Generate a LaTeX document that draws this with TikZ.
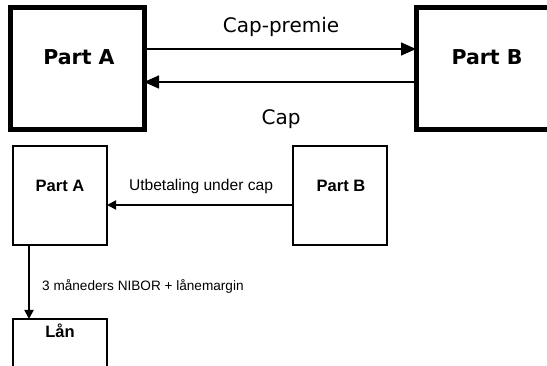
\documentclass[tikz,border=0pt]{standalone}
\usepackage{fontspec}
\setmainfont{DejaVu Sans}
\newfontfamily\lowfont{Liberation Sans}
\usetikzlibrary{arrows.meta}
\tikzset{
  bigbox/.style={draw=black, line width=5pt, minimum width=134pt, minimum height=122pt, inner sep=0pt, outer sep=0pt},
  smallbox/.style={draw=black, line width=2.5pt, minimum width=94pt, minimum height=99pt, inner sep=0pt, outer sep=0pt},
  toptext/.style={font=\fontsize{20}{24}\selectfont, anchor=base, inner sep=0pt},
  topbold/.style={font=\fontsize{20.5}{24}\selectfont\bfseries, anchor=base, inner sep=0pt},
  lowtext/.style={font=\lowfont\fontsize{15.6}{18}\selectfont, anchor=base, inner sep=0pt},
  lowbold/.style={font=\lowfont\fontsize{16.5}{19}\selectfont\bfseries, anchor=base, inner sep=0pt},
  lowsmall/.style={font=\lowfont\fontsize{13.6}{16}\selectfont, anchor=base west, inner sep=0pt},
  toparrow/.style={line width=1.5pt, -{Triangle[length=15pt,width=13pt]}},
  lowarrow/.style={line width=1.8pt, -{Triangle[length=9pt,width=9pt]}}
}
\begin{document}
\begin{tikzpicture}[x=1pt,y=-1pt]
\useasboundingbox (0,0) rectangle (547,366);
\clip (0,0) rectangle (547,366);
% top section
\node[bigbox] (pa) at (77,69) {};
\node[bigbox, minimum width=136pt] (pb) at (484,69) {};
\node[topbold] (tpa) at (79,65) {Part A};
\node[topbold] (tpb) at (487,65) {Part B};
\draw[toparrow] ([yshift=20pt]pa.east) -- ([yshift=20pt]pb.west);
\draw[toparrow] ([yshift=-13pt]pb.west) -- ([yshift=-13pt]pa.east);
\node[toptext] (tcp) at (281,33) {Cap-premie};
\node[toptext] (tc) at (281,125) {Cap};
% bottom section
\node[smallbox] (la) at (60,195.5) {};
\node[smallbox] (lb) at (340,195.5) {};
\node[lowbold] (tla) at (60,192) {Part A};
\node[lowbold] (tlb) at (341,192) {Part B};
\draw[lowarrow] ([yshift=-9.5pt]lb.west) -- ([yshift=-9.5pt]la.east);
\node[lowtext] (tut) at (201,191) {Utbetaling under cap};
\node[smallbox, minimum height=81pt] (lan) at (60,359.5) {};
\node[lowbold] (tlan) at (60,338) {Lån};
\draw[lowarrow] ([xshift=-31pt]la.south) -- ([xshift=-31pt]lan.north);
\node[lowsmall] (tnib) at (42,291) {3 måneders NIBOR + lånemargin};
\end{tikzpicture}
\end{document}
